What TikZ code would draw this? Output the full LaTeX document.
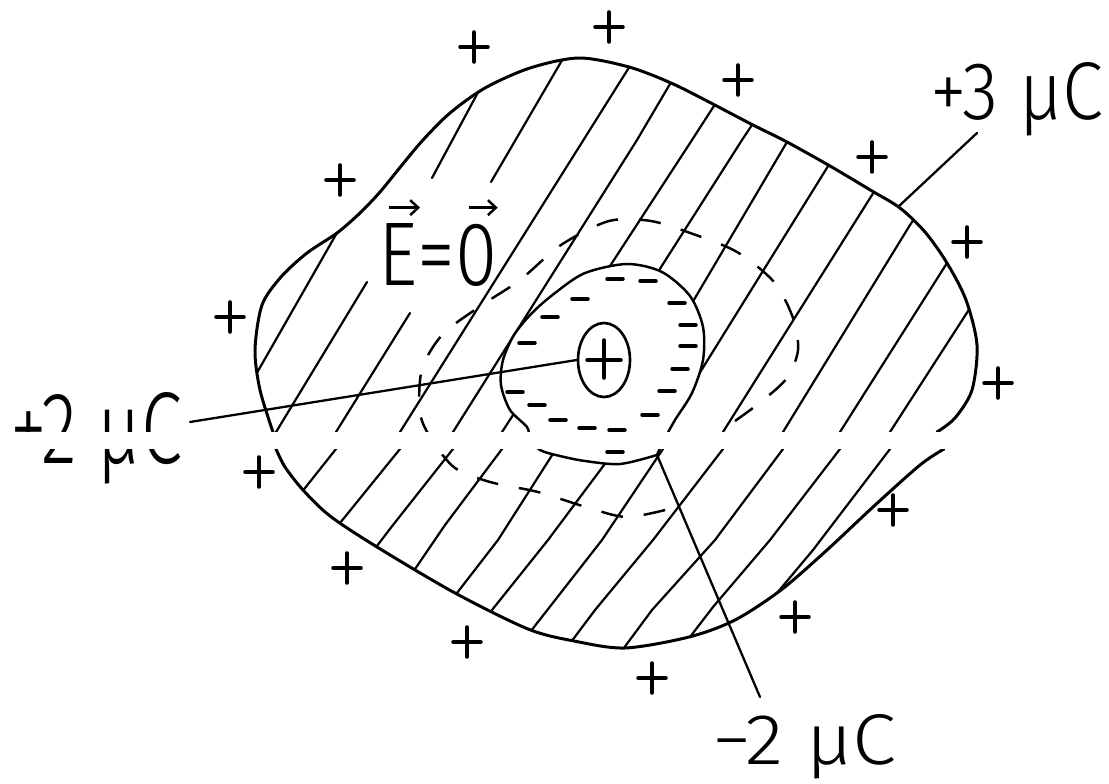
\documentclass[tikz,border=0pt]{standalone}
\usepackage{fontspec}
\usepackage{graphicx}
\newfontfamily\handfont{Fira Sans Light}
\usetikzlibrary{arrows.meta,shapes.geometric}
\tikzset{
  conductor-edge/.style={line width=1.7pt,line join=round},
  hatch-line/.style={line width=1.25pt,line cap=round,line join=round},
  cavity-edge/.style={line width=1.4pt,fill=white,line join=round},
  gauss-surface/.style={line width=1.4pt,dash pattern=on 0.44cm off 0.42cm},
  leader/.style={line width=1.3pt,line cap=round},
  charge-plus/.style={line width=2pt,line cap=round},
  charge-minus/.style={line width=2pt,line cap=round},
  point-charge/.style={draw,ellipse,line width=1.5pt,fill=white,
    minimum width=1.04cm,minimum height=1.48cm,inner sep=0pt},
  label-text/.style={inner sep=0pt,font=\handfont},
  vec-arrow/.style={line width=1.4pt,-{Straight Barb[length=0.16cm,width=0.3cm]}},
  scan-gap/.style={fill=white},
}

\begin{document}
\begin{tikzpicture}[x=0.02cm,y=-0.02cm]
  \useasboundingbox (0,0) rectangle (1109,784);

  % conductor outline (upper and lower part meet inside the blank strip)
  \path[save path=\conductorpath]
    plot[smooth] coordinates {
      (273,432) (260,390) (255,350) (262,305) (281,277) (307,253) (337,233)
      (360,213) (380,192) (402,165) (423,140) (450,113) (485,88) (530,68)
      (579,58) (629,67) (671,83) (709,102) (751,124) (787,142) (830,166)
      (872,191) (900,208) (925,232) (947,263) (966,300) (977,345) (972,390)
      (955,418) (937,432)}
    -- plot[smooth] coordinates {
      (944,449) (920,465) (873,507) (827,550) (781,590) (735,620) (689,637)
      (625,648) (574,641) (528,629) (455,593) (377,547) (330,516) (303,490)
      (285,467) (276,449)}
    -- cycle;

  % hatching of the metal
  \begin{scope}
    \clip[use path=\conductorpath];
    \draw[hatch-line] (350,210) -- (250,385);
    \draw[hatch-line] (490,70) -- (432,178);
    \draw[hatch-line] (367,282) -- (270,442);
    \draw[hatch-line] (575,38) -- (491,182);
    \draw[hatch-line] (410,313) -- (336,432) -- (336,449) -- (305,488) -- (290,507);
    \draw[hatch-line] (640,50) -- (400,432) -- (400,449) -- (340,523) -- (325,542);
    \draw[hatch-line] (690,50) -- (637,140) -- (453,432) -- (453,449) -- (393,525) -- (370,555);
    \draw[hatch-line] (750,50) -- (692,140) -- (502,432) -- (502,449) -- (445,525) -- (413,572) -- (400,590);
    \draw[hatch-line] (770,98) -- (742,140) -- (556,432) -- (556,449) -- (498,540) -- (450,602);
    \draw[hatch-line] (800,120) -- (787,142) -- (616,432) -- (616,449) -- (548,540) -- (480,625);
    \draw[hatch-line] (845,140) -- (830,163) -- (663,432) -- (663,449) -- (602,540) -- (520,645);
    \draw[hatch-line] (890,168) -- (872,195) -- (723,432) -- (723,449) -- (653,540) -- (595,610) -- (565,650);
    \draw[hatch-line] (930,195) -- (910,225) -- (783,432) -- (783,449) -- (715,540) -- (652,610) -- (615,660);
    \draw[hatch-line] (965,235) -- (947,263) -- (840,432) -- (840,449) -- (770,540) -- (713,607) -- (680,650);
    \draw[hatch-line] (990,277) -- (970,308) -- (890,432) -- (890,449) -- (813,550) -- (777,593) -- (760,615);
  \end{scope}
  \draw[conductor-edge,use path=\conductorpath];

  % cavity with the induced charge
  \draw[cavity-edge] plot[smooth] coordinates {
    (657,455) (620,464) (585,461) (560,456) (540,450) (530,438) (527,427)
    (510,410) (501,385) (503,360) (514,335) (532,313) (555,293) (585,273)
    (627,264) (662,272) (690,296) (703,327) (703,360) (692,393) (675,420)
    (664,440) (657,455)} -- cycle;
  \foreach \x/\y in {615/279,648/281,580/299,677/303,550/317,688/325,
      527/343,688/346,680/369,515/392,667/391,537/405,650/415,558/420,
      587/428,617/430,615/452}
    \draw[charge-minus] ({\x-8},\y) -- ({\x+8},\y);

  % point charge
  \node[point-charge] (q) at (604,360) {};
  \draw[charge-plus] ([xshift=-0.34cm]q.center) -- ([xshift=0.34cm]q.center)
    ([yshift=0.4cm]q.center) -- ([yshift=-0.36cm]q.center);

  % Gaussian surface
  \draw[gauss-surface] plot[smooth] coordinates {
    (735,421) (762,401) (787,378) (798,350) (793,318) (774,282) (737,252)
    (693,234) (651,221) (609,221) (561,245) (520,280) (482,305) (443,334)
    (422,369) (420,413) (432,440) (455,468) (490,482) (538,492) (586,507)
    (627,517) (673,508)};

  % charge on the outer surface
  \foreach \x/\y in {474/47,609/27,738/80,872/157,967/242,998/383,893/510,
      795/617,652/678,467/642,347/568,259/472,230/317,340/180}
    \draw[charge-plus] ({\x-14},\y) -- ({\x+14},\y) (\x,{\y-15}) -- (\x,{\y+15});

  % labels
  \node[label-text,anchor=base west] (lblthree) at (930,120)
    {\resizebox{3.46cm}{1.14cm}{+3 μC}};
  \node[label-text,anchor=base west] (lbltwo) at (10,463)
    {\resizebox{3.44cm}{1.42cm}{+2 μC}};
  \node[label-text,anchor=base west] (lblminus) at (712,764)
    {\resizebox{3.68cm}{1.0cm}{−2 μC}};
  \node[label-text,anchor=base west] (lblfield) at (378,285)
    {\resizebox{2.38cm}{1.24cm}{E=0}};
  \draw[vec-arrow] ([xshift=0.22cm,yshift=0.3cm]lblfield.north west)
    -- ([xshift=0.84cm,yshift=0.3cm]lblfield.north west);
  \draw[vec-arrow] ([xshift=-0.58cm,yshift=0.3cm]lblfield.north east)
    -- ([yshift=0.3cm]lblfield.north east);

  % leader lines
  \coordinate (edge3) at (898,207);
  \coordinate (tip3) at (977,133);
  \coordinate (tip2) at (190,422);
  \coordinate (cavtip) at (657,455);
  \coordinate (tipm) at (760,697);
  \draw[leader] (edge3) -- (tip3);
  \draw[leader] (q.west) -- (tip2);
  \draw[leader] (cavtip) -- (tipm);

  % blank strip of the scan
  \fill[scan-gap] (-1,432) rectangle (980,449);
\end{tikzpicture}
\end{document}
